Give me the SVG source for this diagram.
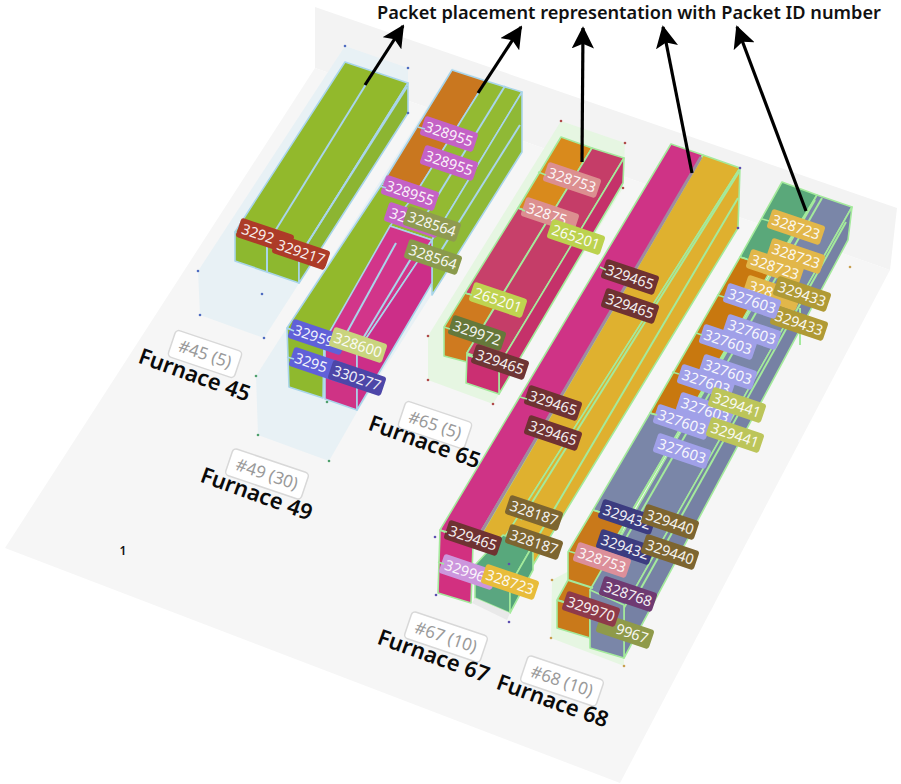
<svg xmlns="http://www.w3.org/2000/svg" width="901" height="784" viewBox="0 0 901 784">
<style>
text{font-family:"Noto Sans","Open Sans","DejaVu Sans",sans-serif}
.lb text{fill:#fff;font-size:14.500px;text-anchor:middle;opacity:.92}
.lb text.s{text-anchor:start}
.lb text.e{text-anchor:end}
.tag rect{fill:#fff;stroke:#d8d8d8;stroke-width:1.5}
.tag text{fill:#9a9a9a;font-size:17px;text-anchor:middle}
.fn{fill:#0a0a0a;font-size:22px;font-weight:600;text-anchor:middle}
.blue polygon.p,.blue line{stroke:#a9d5ea}
.green polygon.p,.green line{stroke:#a4ea9c}
.p{stroke-width:1.6;stroke-linejoin:round}
line{stroke-width:2}
.arrow{stroke:#000;stroke-width:3.2;fill:none;marker-end:url(#ah)}
.tb line{stroke:#a9d5ea;stroke-width:1.6}
.tg line{stroke:#a4ea9c;stroke-width:1.6}
</style>
<defs>
<rect id="r" x="-28" y="-10" width="56" height="20" rx="3"/>
<marker id="ah" viewBox="0 0 12 12" refX="11" refY="6" markerWidth="7" markerHeight="7" markerUnits="strokeWidth" orient="auto"><path d="M0 0L12 6L0 12L2.5 6Z" fill="#000"/></marker>
</defs>
<rect width="901" height="784" fill="#fff"/>
<g id="room">
<polygon points="315,7 897,208 890,270 315,68" fill="#f3f3f3"/>
<polygon points="315,68 890,270 620,783 5,548" fill="#f6f6f6"/>
</g>

<g id="furnace-45" class="blue">
<polygon points="345,46 408,68 408,113 264,338 200,315 198,271" fill="#e8f1f5"/>
<polygon class="p" points="345,62 408,83 299,257 235,232" fill="#92b92c"/>
<polygon class="p" points="235,232 299,257 299,283 235,261" fill="#8db82f"/>
<polygon class="p" points="408,83 408,113 299,283 299,257" fill="#8cb532"/>
<line x1="373" y1="73" x2="267" y2="244"/><line x1="267" y1="244" x2="267" y2="272"/>
<line x1="407" y1="87" x2="303" y2="250"/>
<g fill="#4f6cc0"><circle cx="345" cy="46" r="1.300"/><circle cx="408" cy="68" r="1.300"/><circle cx="408" cy="113" r="1.300"/><circle cx="198" cy="271" r="1.300"/><circle cx="262" cy="294" r="1.300"/><circle cx="200" cy="315" r="1.300"/><circle cx="264" cy="338" r="1.300"/></g>
<g class="lb" transform="translate(265,236) rotate(18.6)" fill="#ad3b28"><use href="#r"/><text class="s" x="-24" y="5.200">3292</text></g>
<g class="lb" transform="translate(301,252) rotate(18.6)" fill="#ad3b28"><use href="#r"/><text y="5.200">329217</text></g>
<g class="tag" transform="translate(205,354) rotate(18.6)"><rect x="-35" y="-14" width="70" height="28" rx="4"/><text y="6">#45 (5)</text></g>
<text class="fn" transform="translate(192,382) rotate(19.800)">Furnace 45</text>
</g>

<g id="furnace-49" class="blue">
<polygon points="452,68 522,92 522,152 357,412 329,461 258,435 256,376" fill="#e8f1f5"/>
<polygon class="p" points="452,70 486,81 414,196 382,184" fill="#c9771f"/>
<polygon class="p" points="382,184 414,196 324,342 287,328" fill="#92b92c"/>
<polygon class="p" points="287,328 324,342 323,398 289,387" fill="#8fb92e"/>
<polygon class="p" points="486,81 522,92 432,240 390,226 414,196" fill="#93ba32"/>
<polygon class="p" points="522,92 522,152 432,295 432,240" fill="#8fb936"/>
<polygon class="p" points="390,226 432,240 357,352 325,340" fill="#d2358a"/>
<polygon class="p" points="325,340 357,352 357,410 325,399" fill="#cf3385"/>
<polygon class="p" points="432,240 432,283 357,410 357,352" fill="#cc2e88"/>
<line x1="505" y1="86" x2="424" y2="218"/><line x1="520" y1="125" x2="432" y2="265"/>
<line x1="396" y1="243" x2="340" y2="345"/><line x1="415" y1="252" x2="362" y2="340"/>
<g fill="#4fa06c"><circle cx="256" cy="376" r="1.300"/><circle cx="258" cy="435" r="1.300"/><circle cx="329" cy="461" r="1.300"/><circle cx="327" cy="402" r="1.300"/></g>
<g class="lb" transform="translate(449,134) rotate(18.6)" fill="#c462c6"><use href="#r"/><text y="5.200">328955</text></g>
<g class="lb" transform="translate(449,163) rotate(18.6)" fill="#c462c6"><use href="#r"/><text y="5.200">328955</text></g>
<g class="lb" transform="translate(410,193) rotate(18.6)" fill="#c462c6"><use href="#r"/><text y="5.200">328955</text></g>
<g class="lb" transform="translate(413,220) rotate(18.6)" fill="#c462c6"><use href="#r"/><text class="s" x="-24" y="5.200">32</text></g>
<g class="lb" transform="translate(432,224) rotate(18.6)" fill="#8f9a50"><use href="#r"/><text y="5.200">328564</text></g>
<g class="lb" transform="translate(433,257) rotate(18.6)" fill="#8a9a4c"><use href="#r"/><text y="5.200">328564</text></g>
<g class="lb" transform="translate(317,337) rotate(18.6)" fill="#6060d8"><use href="#r"/><text class="s" x="-24" y="5.200">32959</text></g>
<g class="lb" transform="translate(318,365) rotate(18.6)" fill="#6060d8"><use href="#r"/><text class="s" x="-24" y="5.200">3295</text></g>
<g class="lb" transform="translate(358,345) rotate(18.6)" fill="#c9d47e"><use href="#r"/><text y="5.200">328600</text></g>
<g class="lb" transform="translate(357,378) rotate(18.6)" fill="#4d46a8"><use href="#r"/><text y="5.200">330277</text></g>
<g class="tag" transform="translate(267,474) rotate(18.6)"><rect x="-40" y="-14" width="80" height="28" rx="4"/><text y="6">#49 (30)</text></g>
<text class="fn" transform="translate(254,501) rotate(19.800)">Furnace 49</text>
</g>

<g id="furnace-65" class="green">
<polygon points="561,121 625,143 623,188 493,404 428,380 428,336" fill="#e6f6e2"/>
<polygon class="p" points="561,137 592,148 549,218 518,208" fill="#d98a1c"/>
<polygon class="p" points="518,208 549,218 497,303 465,293" fill="#c7406a"/>
<polygon class="p" points="465,293 497,303 467,353 467,362 444,356 444,327" fill="#cf7a1f"/>
<polygon class="p" points="592,148 624,158 499,365 467,353" fill="#c53d68"/>
<polygon class="p" points="624,158 623,183 499,394 499,365" fill="#c5316a"/>
<polygon class="p" points="467,355 499,365 499,394 466,383" fill="#cb2f72"/>
<g fill="#b04a4a"><circle cx="561" cy="121" r="1.300"/><circle cx="625" cy="143" r="1.300"/><circle cx="623" cy="188" r="1.300"/><circle cx="428" cy="336" r="1.300"/><circle cx="428" cy="380" r="1.300"/><circle cx="493" cy="404" r="1.300"/></g>
<g class="lb" transform="translate(572,180) rotate(18.6)" fill="#dc8f90"><use href="#r"/><text y="5.200">328753</text></g>
<g class="lb" transform="translate(550,215) rotate(18.6)" fill="#dc8f90"><use href="#r"/><text class="s" x="-24" y="5.200">32875</text></g>
<g class="lb" transform="translate(576,237) rotate(18.6)" fill="#bcd24e"><use href="#r"/><text y="5.200">265201</text></g>
<g class="lb" transform="translate(498,300) rotate(18.6)" fill="#bfd350"><use href="#r"/><text y="5.200">265201</text></g>
<g class="lb" transform="translate(477,333) rotate(18.6)" fill="#66783a"><use href="#r"/><text y="5.200">329972</text></g>
<g class="lb" transform="translate(500,362) rotate(18.6)" fill="#6f3535"><use href="#r"/><text y="5.200">329465</text></g>
<g class="tag" transform="translate(435,425) rotate(18.6)"><rect x="-35" y="-14" width="70" height="28" rx="4"/><text y="6">#65 (5)</text></g>
<text class="fn" transform="translate(422,449) rotate(19.800)">Furnace 65</text>
</g>

<g id="furnace-67" class="green">
<polygon class="p" points="671,144 703,155 473,545 440,530" fill="#cf3386"/>
<polygon class="p" points="440,530 473,545 471,603 438,593" fill="#d23080"/>
<polygon class="p" points="703,155 740,168 505,537 475,545" fill="#dfb12f"/>
<polygon class="p" points="740,168 738,228 533,565 505,537" fill="#dfb02f"/>
<polygon class="p" points="503,535 533,545 510,585 475,565" fill="#58a87c"/>
<polygon class="p" points="475,565 510,585 510,613 475,598" fill="#5aa680"/>
<polygon class="p" points="533,545 533,570 510,613 510,585" fill="#55a27a"/>
<polygon points="472,603 475,598 510,613 507,620" fill="#e9e9e9"/>
<line x1="701" y1="157" x2="472" y2="548" style="stroke:#a08aa0;stroke-width:3"/><line x1="739" y1="172" x2="521" y2="520"/><line x1="738" y1="198" x2="533" y2="545"/>
<g fill="#5d4fb0"><circle cx="435" cy="537" r="1.300"/><circle cx="436" cy="595" r="1.300"/><circle cx="509" cy="564" r="1.300"/><circle cx="509" cy="622" r="1.300"/><circle cx="738" cy="228" r="1.300"/><circle cx="740" cy="168" r="1.300"/></g>
<g class="lb" transform="translate(630,277) rotate(18.6)" fill="#6f3232"><use href="#r"/><text y="5.200">329465</text></g>
<g class="lb" transform="translate(630,306) rotate(18.6)" fill="#6f3232"><use href="#r"/><text y="5.200">329465</text></g>
<g class="lb" transform="translate(553,403) rotate(18.6)" fill="#6f3232"><use href="#r"/><text y="5.200">329465</text></g>
<g class="lb" transform="translate(553,433) rotate(18.6)" fill="#6f3232"><use href="#r"/><text y="5.200">329465</text></g>
<g class="lb" transform="translate(473,538) rotate(18.6)" fill="#6f3232"><use href="#r"/><text y="5.200">329465</text></g>
<g class="lb" transform="translate(534,513) rotate(18.6)" fill="#7d6530"><use href="#r"/><text y="5.200">328187</text></g>
<g class="lb" transform="translate(534,542) rotate(18.6)" fill="#7d6530"><use href="#r"/><text y="5.200">328187</text></g>
<g class="lb" transform="translate(468,572) rotate(18.6)" fill="#cc96dd"><use href="#r"/><text class="s" x="-24" y="5.200">32996</text></g>
<g class="lb" transform="translate(510,582) rotate(18.6)" fill="#e8bc3a"><use href="#r"/><text y="5.200">328723</text></g>
<g class="tag" transform="translate(446,637) rotate(18.6)"><rect x="-40" y="-14" width="80" height="28" rx="4"/><text y="6">#67 (10)</text></g>
<text class="fn" transform="translate(431,663) rotate(19.800)">Furnace 67</text>
</g>

<g id="furnace-68" class="green">
<polygon points="552,580 590,560 624,600 624,666 551,638" fill="#e6f6e2"/>
<polygon class="p" points="782,182 817,195 772,268 740,257" fill="#5aa87a"/>
<polygon class="p" points="740,257 772,268 683,424 650,413" fill="#c8780f"/>
<polygon class="p" points="650,413 683,424 626,521 593,510" fill="#7a86a8"/>
<polygon class="p" points="593,510 626,521 590,608 590,638 557,628 557,600 568,580 568,552" fill="#c9791a"/>
<polygon class="p" points="817,195 852,207 624,608 590,590" fill="#7a86a8"/>
<polygon class="p" points="852,207 848,240 624,658 624,608" fill="#7681a4"/>
<polygon class="p" points="590,590 624,605 624,658 590,648" fill="#7a86a8"/>
<line x1="846" y1="222" x2="640" y2="590"/><line x1="815" y1="200" x2="612" y2="545"/><line x1="822" y1="198" x2="618" y2="552"/><line x1="800" y1="308" x2="800" y2="345"/>
<line x1="568" y1="580" x2="593" y2="588"/><line x1="557" y1="600" x2="590" y2="610"/>
<g fill="#c8a050"><circle cx="552" cy="580" r="1.300"/><circle cx="551" cy="638" r="1.300"/><circle cx="624" cy="666" r="1.300"/><circle cx="850" cy="267" r="1.300"/></g>
<g class="lb" transform="translate(796,227) rotate(18.6)" fill="#e2b74a"><use href="#r"/><text y="5.200">328723</text></g>
<g class="lb" transform="translate(796,256) rotate(18.6)" fill="#e2b74a"><use href="#r"/><text y="5.200">328723</text></g>
<g class="lb" transform="translate(775,267) rotate(18.6)" fill="#e2b74a"><use href="#r"/><text y="5.200">328723</text></g>
<g class="lb" transform="translate(772,293) rotate(18.6)" fill="#e2b74a"><use href="#r"/><text class="s" x="-24" y="5.200">328</text></g>
<g class="lb" transform="translate(802,294) rotate(18.6)" fill="#b09a35"><use href="#r"/><text y="5.200">329433</text></g>
<g class="lb" transform="translate(799,323) rotate(18.6)" fill="#b09a35"><use href="#r"/><text y="5.200">329433</text></g>
<g class="lb" transform="translate(752,301) rotate(18.6)" fill="#a0a0e8"><use href="#r"/><text y="5.200">327603</text></g>
<g class="lb" transform="translate(752,332) rotate(18.6)" fill="#a0a0e8"><use href="#r"/><text y="5.200">327603</text></g>
<g class="lb" transform="translate(728,342) rotate(18.6)" fill="#a0a0e8"><use href="#r"/><text y="5.200">327603</text></g>
<g class="lb" transform="translate(728,372) rotate(18.6)" fill="#a0a0e8"><use href="#r"/><text y="5.200">327603</text></g>
<g class="lb" transform="translate(706,382) rotate(18.6)" fill="#a0a0e8"><use href="#r"/><text y="5.200">327603</text></g>
<g class="lb" transform="translate(705,410) rotate(18.6)" fill="#a0a0e8"><use href="#r"/><text y="5.200">327603</text></g>
<g class="lb" transform="translate(682,422) rotate(18.6)" fill="#a0a0e8"><use href="#r"/><text y="5.200">327603</text></g>
<g class="lb" transform="translate(682,451) rotate(18.6)" fill="#a0a0e8"><use href="#r"/><text y="5.200">327603</text></g>
<g class="lb" transform="translate(737,405) rotate(18.6)" fill="#bcc55a"><use href="#r"/><text y="5.200">329441</text></g>
<g class="lb" transform="translate(735,435) rotate(18.6)" fill="#bcc55a"><use href="#r"/><text y="5.200">329441</text></g>
<g class="lb" transform="translate(627,517) rotate(18.6)" fill="#3c3c80"><use href="#r"/><text y="5.200">329432</text></g>
<g class="lb" transform="translate(625,547) rotate(18.6)" fill="#3c3c80"><use href="#r"/><text y="5.200">329432</text></g>
<g class="lb" transform="translate(670,522) rotate(18.6)" fill="#7d6530"><use href="#r"/><text y="5.200">329440</text></g>
<g class="lb" transform="translate(670,552) rotate(18.6)" fill="#7d6530"><use href="#r"/><text y="5.200">329440</text></g>
<g class="lb" transform="translate(602,560) rotate(18.6)" fill="#dc8f9a"><use href="#r"/><text y="5.200">328753</text></g>
<g class="lb" transform="translate(628,594) rotate(18.6)" fill="#6f3a72"><use href="#r"/><text y="5.200">328768</text></g>
<g class="lb" transform="translate(625,631) rotate(18.6)" fill="#8f9a4a"><use href="#r"/><text class="e" x="24" y="5.200">9967</text></g>
<g class="lb" transform="translate(591,609) rotate(18.6)" fill="#8e3a4a"><use href="#r"/><text y="5.200">329970</text></g>
<g class="tag" transform="translate(562,681) rotate(18.6)"><rect x="-40" y="-14" width="80" height="28" rx="4"/><text y="6">#68 (10)</text></g>
<text class="fn" transform="translate(550,708) rotate(19.800)">Furnace 68</text>
</g>

<g id="connectors">
<g class="tb"><line x1="418" y1="127" x2="425" y2="129"/><line x1="380" y1="186" x2="386" y2="188"/><line x1="287" y1="328" x2="294" y2="331"/><line x1="287" y1="357" x2="294" y2="359"/></g>
<g class="tg"><line x1="538" y1="172" x2="546" y2="175"/><line x1="518" y1="208" x2="525" y2="211"/><line x1="465" y1="293" x2="472" y2="295"/><line x1="444" y1="327" x2="450" y2="329"/><line x1="467" y1="355" x2="473" y2="357"/><line x1="600" y1="267" x2="606" y2="270"/><line x1="520" y1="397" x2="527" y2="399"/><line x1="440" y1="530" x2="447" y2="532"/><line x1="438" y1="562" x2="444" y2="564"/><line x1="762" y1="219" x2="769" y2="221"/><line x1="740" y1="257" x2="747" y2="259"/><line x1="717" y1="295" x2="724" y2="297"/><line x1="696" y1="333" x2="702" y2="335"/><line x1="672" y1="372" x2="679" y2="374"/><line x1="650" y1="413" x2="657" y2="415"/><line x1="593" y1="510" x2="600" y2="512"/><line x1="568" y1="551" x2="575" y2="553"/><line x1="557" y1="600" x2="564" y2="602"/></g>
<line class="arrow" x1="365" y1="85" x2="403" y2="26"/>
<line class="arrow" x1="478" y1="93" x2="521" y2="27"/>
<line class="arrow" x1="582" y1="162" x2="583" y2="28"/>
<line class="arrow" x1="692" y1="173" x2="663" y2="27"/>
<line class="arrow" x1="806" y1="211" x2="737" y2="27"/>
</g>
<text x="629" y="19" font-size="18.200" font-weight="600" fill="#111" text-anchor="middle">Packet placement representation with Packet ID number</text>
<text x="123" y="555" font-size="12" font-weight="600" fill="#111" text-anchor="middle">1</text>
</svg>
